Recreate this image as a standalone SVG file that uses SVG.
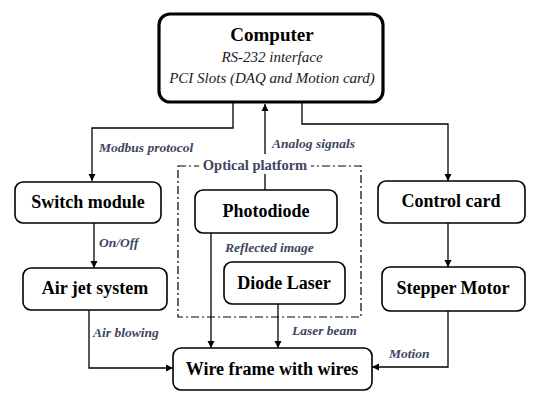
<svg xmlns="http://www.w3.org/2000/svg" width="538" height="405" viewBox="0 0 538 405">
<defs>
<marker id="ah" viewBox="0 0 10 10" refX="10" refY="5" markerWidth="7" markerHeight="9" markerUnits="userSpaceOnUse" orient="auto">
<path d="M0,0 L10,5 L0,10 Z" fill="#000"/>
</marker>
<style>
text{font-family:'Liberation Serif','Times New Roman',serif}
.box{fill:#fff;stroke:#000;stroke-width:1.6}
.big{fill:#fff;stroke:#000;stroke-width:3.2}
.t{font-weight:bold;font-size:18px;fill:#000;text-anchor:middle}
.s{font-style:italic;font-size:15px;fill:#1a1a1a;text-anchor:middle}
.l{font-style:italic;font-weight:bold;font-size:13.5px;fill:#3c4660}
.c{fill:none;stroke:#000;stroke-width:1.3}
.d{fill:none;stroke:#000;stroke-width:1.2;stroke-dasharray:8 3 2 3}
</style>
</defs>
<rect width="538" height="405" fill="#fff"/>

<g id="optical-platform">
<rect class="d" x="178" y="166" width="183" height="151"/>
</g>

<g id="connectors">
<polyline class="c" points="233,102 233,128 92,128 92,181" marker-end="url(#ah)"/>
<polyline class="c" points="302,102 302,124 448,124 448,181" marker-end="url(#ah)"/>
<line class="c" x1="265" y1="190" x2="265" y2="104" marker-end="url(#ah)"/>
<line class="c" x1="94" y1="223" x2="94" y2="268" marker-end="url(#ah)"/>
<line class="c" x1="448" y1="223" x2="448" y2="267" marker-end="url(#ah)"/>
<polyline class="c" points="89,310 89,368 173,368" marker-end="url(#ah)"/>
<polyline class="c" points="448,311 448,367 372,367" marker-end="url(#ah)"/>
<line class="c" x1="211" y1="233" x2="211" y2="348" marker-end="url(#ah)"/>
<line class="c" x1="278" y1="304" x2="278" y2="348" marker-end="url(#ah)"/>
<text class="l" x="99" y="152">Modbus protocol</text>
<text class="l" x="272" y="148">Analog signals</text>
<text class="l" x="99" y="247">On/Off</text>
<text class="l" x="225" y="252">Reflected image</text>
<text class="l" x="93" y="337">Air blowing</text>
<text class="l" x="292" y="335">Laser beam</text>
<text class="l" x="389" y="358">Motion</text>
</g>

<g id="optical-platform-label">
<rect x="199" y="154" width="112" height="20" fill="#fff"/>
<text x="255" y="170" font-weight="bold" font-size="14.5" fill="#3c4660" text-anchor="middle">Optical platform</text>
</g>

<g id="computer">
<rect class="big" x="159" y="14" width="224" height="88" rx="11"/>
<text class="t" x="272" y="41" style="font-size:19px">Computer</text>
<text class="s" x="272" y="62">RS-232 interface</text>
<text class="s" x="272" y="83">PCI Slots (DAQ and Motion card)</text>
</g>

<g id="switch-module">
<rect class="box" x="15" y="182" width="146" height="41" rx="8"/>
<text class="t" x="88" y="208">Switch module</text>
</g>

<g id="air-jet-system">
<rect class="box" x="23" y="268" width="144" height="42" rx="8"/>
<text class="t" x="95" y="294">Air jet system</text>
</g>

<g id="photodiode">
<rect class="box" x="195" y="190" width="142" height="43" rx="8"/>
<text class="t" x="266" y="217">Photodiode</text>
</g>

<g id="diode-laser">
<rect class="box" x="224" y="262" width="121" height="42" rx="8"/>
<text class="t" x="284" y="289">Diode Laser</text>
</g>

<g id="control-card">
<rect class="box" x="378" y="181" width="147" height="42" rx="8"/>
<text class="t" x="451" y="207">Control card</text>
</g>

<g id="stepper-motor">
<rect class="box" x="382" y="267" width="143" height="44" rx="8"/>
<text class="t" x="453" y="294">Stepper Motor</text>
</g>

<g id="wire-frame">
<rect class="box" x="173" y="348" width="199" height="42" rx="8"/>
<text class="t" x="272" y="375">Wire frame with wires</text>
</g>
</svg>
